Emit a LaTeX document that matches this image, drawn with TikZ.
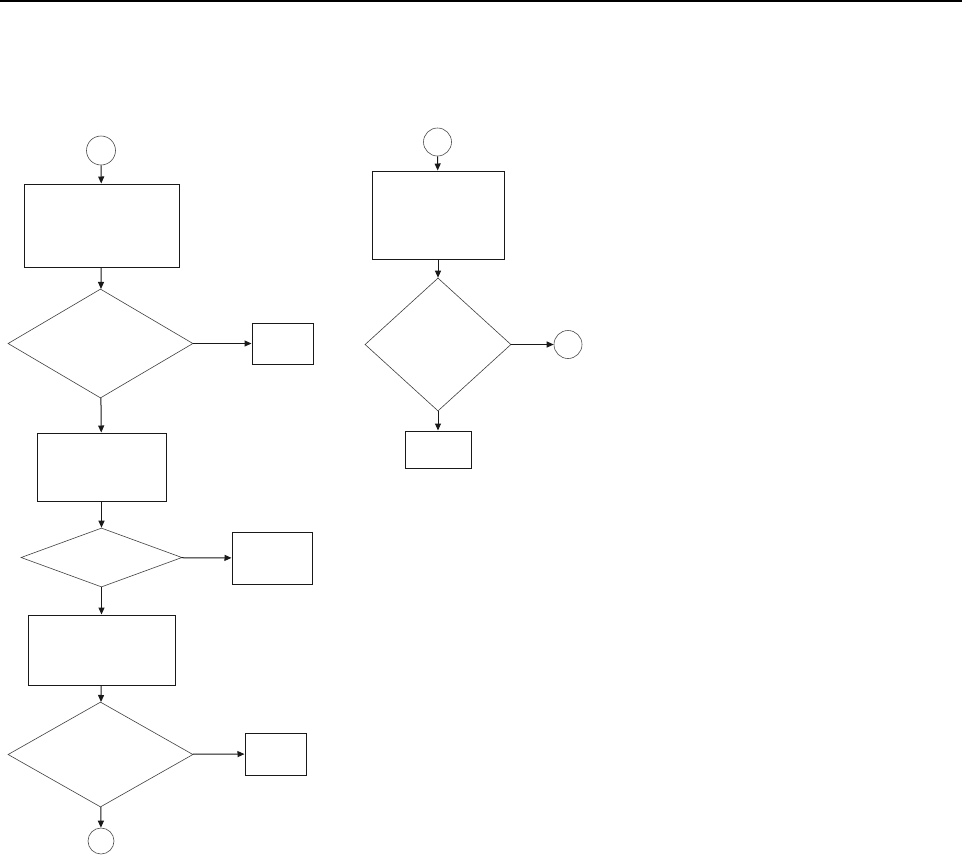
\documentclass[tikz,border=0pt]{standalone}
\usetikzlibrary{shapes.geometric,arrows.meta}
\begin{document}
\begin{tikzpicture}[x=1pt,y=-1pt,
  boxnode/.style={draw=black!90,line width=1pt,inner sep=0pt,rectangle},
  decnode/.style={draw=black!75,line width=0.6pt,inner sep=0pt,diamond},
  conn/.style={draw=black!70,line width=0.6pt,inner sep=0pt,circle},
  flow/.style={draw=black!90,line width=1pt,-{Triangle[length=7pt,width=6pt]}}]
\useasboundingbox (0,0) rectangle (964,855);
\fill[white] (0,0) rectangle (964,855);
\fill[black] (0,0) rectangle (962,2.2);
% left column
\node[conn,minimum size=29pt] (c1) at (101,150.5) {};
\node[boxnode,minimum width=155pt,minimum height=83pt] (b1) at (101.5,225.5) {};
\node[decnode,minimum width=185pt,minimum height=109pt] (d1) at (100.5,343.5) {};
\node[boxnode,minimum width=61pt,minimum height=41pt] (r1) at (282.5,343.5) {};
\node[boxnode,minimum width=129pt,minimum height=68pt] (b2) at (101.5,467) {};
\node[decnode,minimum width=161pt,minimum height=59pt] (d2) at (101.5,557.5) {};
\node[boxnode,minimum width=80pt,minimum height=52pt] (r2) at (272,558) {};
\node[boxnode,minimum width=147pt,minimum height=70pt] (b3) at (101.5,650) {};
\node[decnode,minimum width=185pt,minimum height=105pt] (d3) at (100.5,754.5) {};
\node[boxnode,minimum width=61pt,minimum height=42pt] (r3) at (275.5,754) {};
\node[conn,minimum size=26pt] (c2) at (101,841) {};
% right column
\node[conn,minimum size=28pt] (c3) at (437.5,142) {};
\node[boxnode,minimum width=132pt,minimum height=88pt] (b4) at (438,215) {};
\node[decnode,minimum width=146pt,minimum height=133pt] (d4) at (438,344.5) {};
\node[conn,minimum size=28pt] (c4) at (568,344.5) {};
\node[boxnode,minimum width=66pt,minimum height=37pt] (r4) at (438,449.5) {};
% connectors
\draw[flow] (c1) -- (b1);
\draw[flow] (b1) -- (d1);
\draw[flow] (d1) -- (r1);
\draw[flow] (d1) -- (b2);
\draw[flow] (b2) -- (d2);
\draw[flow] (d2) -- (r2);
\draw[flow] (d2) -- (b3);
\draw[flow] (b3) -- (d3);
\draw[flow] (d3) -- (r3);
\draw[flow] (d3) -- (c2);
\draw[flow] (c3) -- (b4);
\draw[flow] (b4) -- (d4);
\draw[flow] (d4) -- (c4);
\draw[flow] (d4) -- (r4);
\end{tikzpicture}
\end{document}
